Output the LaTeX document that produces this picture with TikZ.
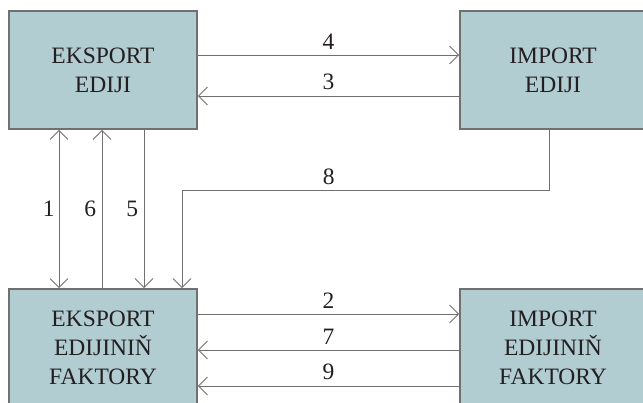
\documentclass[tikz,border=0pt]{standalone}
\usepackage{fontspec}
\setmainfont{Liberation Serif}
\usetikzlibrary{arrows.meta}

%couleurs du schema
\definecolor{fond}{HTML}{B1CDD2}
\definecolor{trait}{HTML}{707070}
\definecolor{encre}{HTML}{231F20}

\begin{document}
\begin{tikzpicture}[x=1pt,y=-1pt,
    >={Straight Barb[length=9pt,width=18pt]},
    bloc/.style={draw=trait,line width=1.6pt,fill=fond,text=encre,align=center,
        minimum width=188pt,minimum height=118pt,inner sep=0pt,
        font=\rmfamily\fontsize{23.5}{29}\selectfont},
    fleche/.style={draw=trait,line width=0.9pt,->},
    num/.style={text=encre,font=\rmfamily\fontsize{23.5}{29}\selectfont,inner sep=5.5pt}]
\useasboundingbox (0,0) rectangle (643,403);

%les quatre blocs
\node[bloc] (EE) at (103,70) {EKSPORT\\EDIJI};
\node[bloc,minimum width=186pt] (IE) at (553,70) {IMPORT\\EDIJI};
\node[bloc] (EF) at (103,348) {EKSPORT\\EDIJINIŇ\\FAKTORY};
\node[bloc,minimum width=186pt] (IF) at (553,348) {IMPORT\\EDIJINIŇ\\FAKTORY};

%fleches du haut
\draw[fleche] ([yshift=15pt]EE.east) -- node[num,above]{4} ([yshift=15pt]IE.west);
\draw[fleche] ([yshift=-26pt]IE.west) -- node[num,above]{3} ([yshift=-26pt]EE.east);

%fleches verticales
\draw[fleche,<->] ([xshift=-44pt]EE.south) -- node[num,left,inner sep=4pt]{1} ([xshift=-44pt]EF.north);
\draw[fleche] ([xshift=-1pt]EF.north) -- node[num,left]{6} ([xshift=-1pt]EE.south);
\draw[fleche] ([xshift=41pt]EE.south) -- node[num,left]{5} ([xshift=41pt]EF.north);
\draw[fleche] ([xshift=-4pt]IE.south) -- ++(0,61) -| node[num,above,pos=0.3]{8} ([xshift=79pt]EF.north);

%fleches du bas
\draw[fleche] ([yshift=34pt]EF.east) -- node[num,above]{2} ([yshift=34pt]IF.west);
\draw[fleche] ([yshift=-2pt]IF.west) -- node[num,above]{7} ([yshift=-2pt]EF.east);
\draw[fleche] ([yshift=-38pt]IF.west) -- node[num,above]{9} ([yshift=-38pt]EF.east);

\end{tikzpicture}
\end{document}
